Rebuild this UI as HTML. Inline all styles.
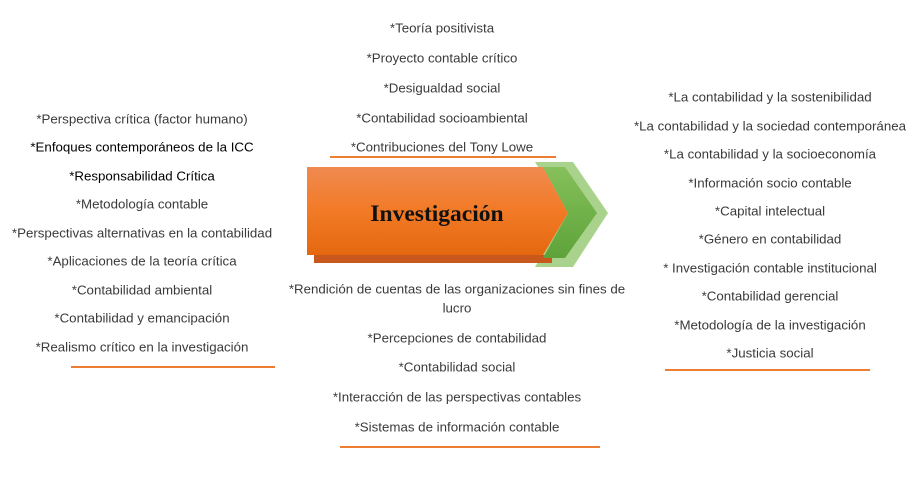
<!DOCTYPE html>
<html><head><meta charset="utf-8"><style>
body{margin:0;width:922px;height:491px;background:#fff;position:relative;overflow:hidden;font-family:"Liberation Sans",sans-serif;}
.t{position:absolute;font-size:13.3px;color:#3a3a3a;white-space:nowrap;transform:translate(-50%,-50%);line-height:1;}
.b{color:#000}
.u{position:absolute;height:2px;background:#ed7d31;}
</style></head><body>
<svg width="922" height="491" style="position:absolute;left:0;top:0">
<defs>
<linearGradient id="og" x1="0" y1="0" x2="0" y2="1"><stop offset="0" stop-color="#f08a50"/><stop offset="0.5" stop-color="#f27a26"/><stop offset="1" stop-color="#e5680f"/></linearGradient>
<linearGradient id="gg" x1="0" y1="0" x2="0" y2="1"><stop offset="0" stop-color="#86c05a"/><stop offset="1" stop-color="#5ea33a"/></linearGradient>
</defs>
<polygon points="535,162 573,162 608,213 573,267 535,267 568,213" fill="#a9d38c"/>
<rect x="314" y="255" width="238" height="8" fill="#c9581e"/>
<polygon points="307,167 543,167 568,213 543,255 307,255" fill="url(#og)"/>
<polygon points="543,167 565,167 597,213 565,258 543,258 568,213" fill="url(#gg)"/>
<text x="437" y="221" text-anchor="middle" font-family="Liberation Serif" font-weight="bold" font-size="23.5" fill="#111">Investigación</text>
</svg>
<div class="t" style="left:442px;top:28px">*Teoría positivista</div>
<div class="t" style="left:442px;top:58px">*Proyecto contable crítico</div>
<div class="t" style="left:442px;top:88px">*Desigualdad social</div>
<div class="t" style="left:442px;top:118px">*Contabilidad socioambiental</div>
<div class="t" style="left:442px;top:147px">*Contribuciones del Tony Lowe</div>
<div class="u" style="left:330px;top:156px;width:226px"></div>

<div class="t" style="left:142px;top:119px">*Perspectiva crítica (factor humano)</div>
<div class="t b" style="left:142px;top:147px">*Enfoques contemporáneos de la ICC</div>
<div class="t b" style="left:142px;top:176px">*Responsabilidad Crítica</div>
<div class="t" style="left:142px;top:204px">*Metodología contable</div>
<div class="t" style="left:142px;top:233px">*Perspectivas alternativas en la contabilidad</div>
<div class="t" style="left:142px;top:261px">*Aplicaciones de la teoría crítica</div>
<div class="t" style="left:142px;top:290px">*Contabilidad ambiental</div>
<div class="t" style="left:142px;top:318px">*Contabilidad y emancipación</div>
<div class="t" style="left:142px;top:347px">*Realismo crítico en la investigación</div>
<div class="u" style="left:71px;top:366px;width:204px"></div>

<div class="t" style="left:770px;top:97px">*La contabilidad y la sostenibilidad</div>
<div class="t" style="left:770px;top:126px">*La contabilidad y la sociedad contemporánea</div>
<div class="t" style="left:770px;top:154px">*La contabilidad y la socioeconomía</div>
<div class="t" style="left:770px;top:183px">*Información socio contable</div>
<div class="t" style="left:770px;top:211px">*Capital intelectual</div>
<div class="t" style="left:770px;top:239px">*Género en contabilidad</div>
<div class="t" style="left:770px;top:268px">* Investigación contable institucional</div>
<div class="t" style="left:770px;top:296px">*Contabilidad gerencial</div>
<div class="t" style="left:770px;top:325px">*Metodología de la investigación</div>
<div class="t" style="left:770px;top:353px">*Justicia social</div>
<div class="u" style="left:665px;top:369px;width:205px"></div>

<div class="t" style="left:457px;top:289px">*Rendición de cuentas de las organizaciones sin fines de</div>
<div class="t" style="left:457px;top:308px">lucro</div>
<div class="t" style="left:457px;top:338px">*Percepciones de contabilidad</div>
<div class="t" style="left:457px;top:367px">*Contabilidad social</div>
<div class="t" style="left:457px;top:397px">*Interacción de las perspectivas contables</div>
<div class="t" style="left:457px;top:427px">*Sistemas de información contable</div>
<div class="u" style="left:340px;top:446px;width:260px"></div>
</body></html>
